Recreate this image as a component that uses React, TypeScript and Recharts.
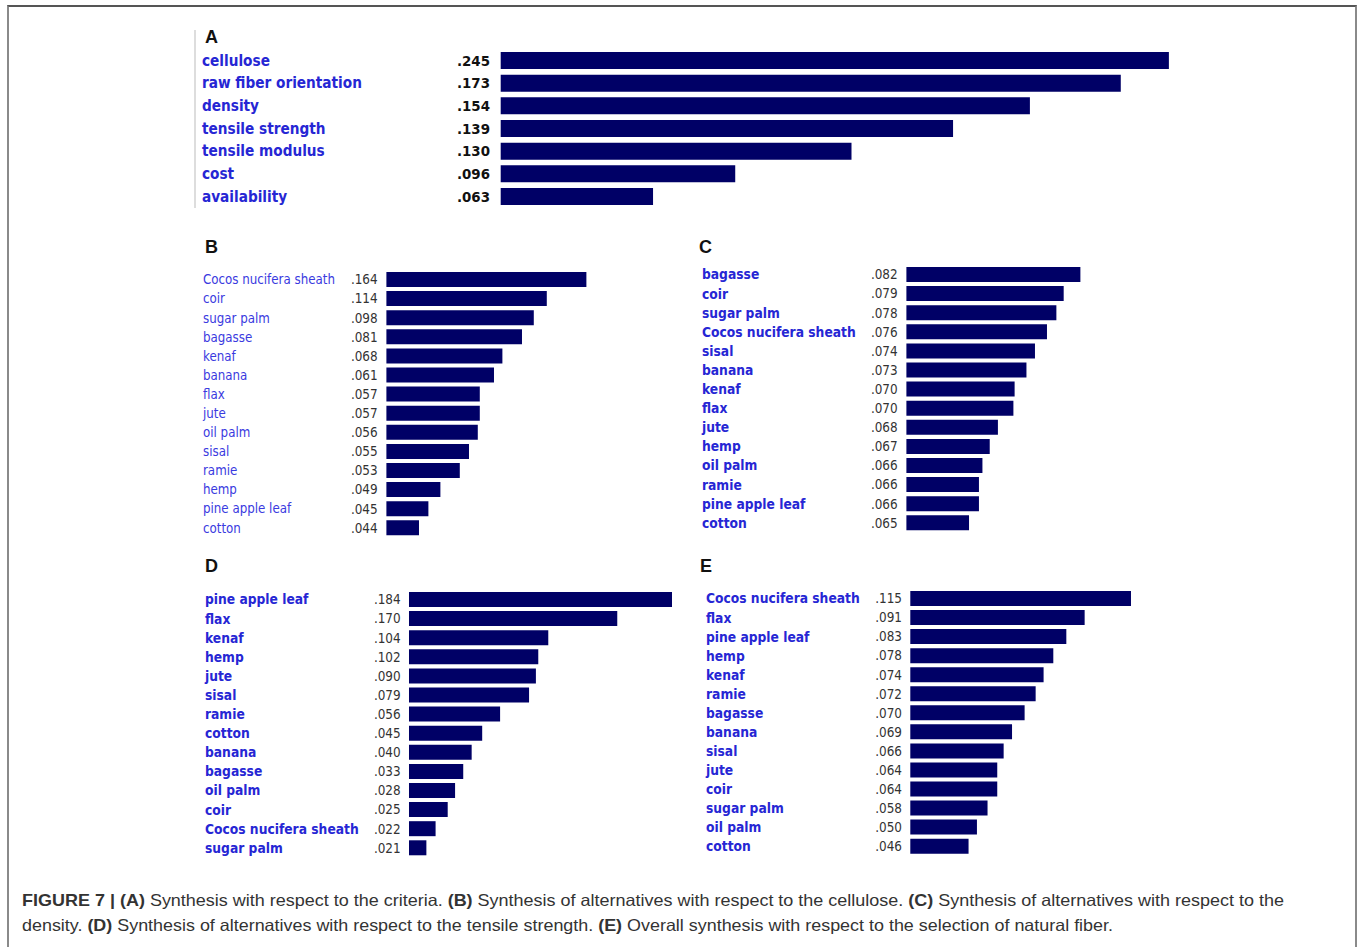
import { BarChart, Bar, XAxis, YAxis } from 'recharts';

/*
  Expert Choice style synthesis bars (Figure 7, A-E).
  The drawn bar lengths in the source do not scale with the printed
  priorities, so each panel keeps both: the printed weights (text column)
  and the bar lengths (percent of the longest bar).
*/

// (A) criteria
const criteriaNames = ['cellulose', 'raw fiber orientation', 'density', 'tensile strength', 'tensile modulus', 'cost', 'availability'];
const criteriaWeights = [0.245, 0.173, 0.154, 0.139, 0.13, 0.096, 0.063];
const criteriaBars = [100, 92.8, 79.2, 67.7, 52.5, 35.1, 22.8];

// (B) alternatives wrt cellulose
const celluloseNames = ['Cocos nucifera sheath', 'coir', 'sugar palm', 'bagasse', 'kenaf', 'banana', 'flax', 'jute', 'oil palm', 'sisal', 'ramie', 'hemp', 'pine apple leaf', 'cotton'];
const celluloseWeights = [0.164, 0.114, 0.098, 0.081, 0.068, 0.061, 0.057, 0.057, 0.056, 0.055, 0.053, 0.049, 0.045, 0.044];
const celluloseBars = [100, 80.2, 73.7, 67.8, 58, 53.8, 46.7, 46.7, 45.7, 41.3, 36.7, 27, 21, 16.3];

// (C) alternatives wrt density
const densityNames = ['bagasse', 'coir', 'sugar palm', 'Cocos nucifera sheath', 'sisal', 'banana', 'kenaf', 'flax', 'jute', 'hemp', 'oil palm', 'ramie', 'pine apple leaf', 'cotton'];
const densityWeights = [0.082, 0.079, 0.078, 0.076, 0.074, 0.073, 0.07, 0.07, 0.068, 0.067, 0.066, 0.066, 0.066, 0.065];
const densityBars = [100, 90.4, 86.2, 80.8, 73.9, 69, 62.2, 61.5, 52.6, 47.9, 43.7, 41.7, 41.7, 36];

// (D) alternatives wrt tensile strength
const strengthNames = ['pine apple leaf', 'flax', 'kenaf', 'hemp', 'jute', 'sisal', 'ramie', 'cotton', 'banana', 'bagasse', 'oil palm', 'coir', 'Cocos nucifera sheath', 'sugar palm'];
const strengthWeights = [0.184, 0.17, 0.104, 0.102, 0.09, 0.079, 0.056, 0.045, 0.04, 0.033, 0.028, 0.025, 0.022, 0.021];
const strengthBars = [100, 79.1, 52.9, 49.1, 48.2, 45.6, 34.6, 27.8, 23.8, 20.6, 17.5, 14.7, 10.1, 6.6];

// (E) overall synthesis
const overallNames = ['Cocos nucifera sheath', 'flax', 'pine apple leaf', 'hemp', 'kenaf', 'ramie', 'bagasse', 'banana', 'sisal', 'jute', 'coir', 'sugar palm', 'oil palm', 'cotton'];
const overallWeights = [0.115, 0.091, 0.083, 0.078, 0.074, 0.072, 0.07, 0.069, 0.066, 0.064, 0.064, 0.058, 0.05, 0.046];
const overallBars = [100, 79, 70.7, 64.8, 60.4, 56.8, 51.8, 46.1, 42.3, 39.4, 39.4, 35, 30.2, 26.4];

const panelLetters = ['A', 'B', 'C', 'D', 'E'];

const captionLine1 = [
  { text: 'FIGURE 7 | (A)', bold: true },
  { text: ' Synthesis with respect to the criteria. ', bold: false },
  { text: '(B)', bold: true },
  { text: ' Synthesis of alternatives with respect to the cellulose. ', bold: false },
  { text: '(C)', bold: true },
  { text: ' Synthesis of alternatives with respect to the', bold: false },
];
const captionLine2 = [
  { text: 'density. ', bold: false },
  { text: '(D)', bold: true },
  { text: ' Synthesis of alternatives with respect to the tensile strength. ', bold: false },
  { text: '(E)', bold: true },
  { text: ' Overall synthesis with respect to the selection of natural fiber.', bold: false },
];

const BAR_COLOR = '#000066';
const FONT = "'DejaVu Sans Condensed', 'DejaVu Sans', Verdana, sans-serif";

const fmt = (v: number) => v.toFixed(3).replace(/^0/, '');

type PanelProps = {
  names: string[];
  weights: number[];
  bars: number[];
  left: number;
  top: number;
  axisWidth: number;
  valueRight: number;
  plotWidth: number;
  rowHeight: number;
  barSize: number;
  nameStyle: { fontSize: number; fontWeight: string; fill: string };
  valueStyle: { fontSize: number; fontWeight: string; fill: string };
};

const Panel = (p: PanelProps) => {
  const data = p.names.map((name, i) => ({ name, weight: p.weights[i], bar: p.bars[i] }));
  const height = p.names.length * p.rowHeight;

  const renderTick = (props: any) => {
    const i = p.names.indexOf(props.payload.value);
    return (
      <g>
        <text x={2} y={props.y} dy="0.36em" textAnchor="start" fontFamily={FONT} {...p.nameStyle}>
          {p.names[i]}
        </text>
        <text x={p.valueRight} y={props.y} dy="0.36em" textAnchor="end" fontFamily={FONT} {...p.valueStyle}>
          {fmt(p.weights[i])}
        </text>
      </g>
    );
  };

  return (
    <div style={{ position: 'absolute', left: p.left, top: p.top }}>
      <BarChart
        width={p.axisWidth + p.plotWidth}
        height={height}
        data={data}
        layout="vertical"
        margin={{ top: 0, right: 0, bottom: 0, left: 0 }}
        barSize={p.barSize}
      >
        <XAxis type="number" dataKey="bar" domain={[0, 100]} hide />
        <YAxis
          type="category"
          dataKey="name"
          width={p.axisWidth}
          axisLine={false}
          tickLine={false}
          interval={0}
          tick={renderTick}
        />
        <Bar dataKey="bar" fill={BAR_COLOR} isAnimationActive={false} />
      </BarChart>
    </div>
  );
};

const boldBlue = { fontSize: 13.7, fontWeight: 'bold', fill: '#2626d4' };
const grayValue = { fontSize: 13.4, fontWeight: 'normal', fill: '#333' };

const App = () => {
  const letterPos = [
    { x: 205, y: 43 },
    { x: 205, y: 253 },
    { x: 699, y: 253 },
    { x: 205, y: 572 },
    { x: 700, y: 572 },
  ];

  return (
    <div style={{ position: 'absolute', left: 0, top: 0, width: 1357, height: 947, background: '#fff', overflow: 'hidden' }}>
      {/* figure frame */}
      <div
        style={{
          position: 'absolute',
          left: 7,
          top: 5,
          width: 1350,
          height: 1000,
          boxSizing: 'border-box',
          borderTop: '2px solid #555',
          borderLeft: '2px solid #8a8a8a',
          borderRight: '2px solid #8a8a8a',
        }}
      />
      <div style={{ position: 'absolute', left: 194, top: 30, width: 2, height: 178, background: '#ddd' }} />

      <svg width={1357} height={947} style={{ position: 'absolute', left: 0, top: 0 }}>
        {panelLetters.map((l, i) => (
          <text key={l} x={letterPos[i].x} y={letterPos[i].y} fontFamily="'Liberation Sans', Arial, sans-serif" fontWeight="bold" fontSize={18} fill="#111">
            {l}
          </text>
        ))}
        <text x={22} y={906} textLength={1262} lengthAdjust="spacingAndGlyphs" fontFamily="'Liberation Sans', Arial, sans-serif" fontSize={16.5} fill="#333" style={{ whiteSpace: 'pre' }}>
          {captionLine1.map((c, i) => (
            <tspan key={i} fontWeight={c.bold ? 'bold' : 'normal'}>{c.text}</tspan>
          ))}
        </text>
        <text x={22} y={931} textLength={1091} lengthAdjust="spacingAndGlyphs" fontFamily="'Liberation Sans', Arial, sans-serif" fontSize={16.5} fill="#333" style={{ whiteSpace: 'pre' }}>
          {captionLine2.map((c, i) => (
            <tspan key={i} fontWeight={c.bold ? 'bold' : 'normal'}>{c.text}</tspan>
          ))}
        </text>
      </svg>

      <Panel
        names={criteriaNames}
        weights={criteriaWeights}
        bars={criteriaBars}
        left={200}
        top={49.4}
        axisWidth={300.7}
        valueRight={290}
        plotWidth={668.2}
        rowHeight={22.67}
        barSize={17}
        nameStyle={{ fontSize: 15.2, fontWeight: 'bold', fill: '#2626d4' }}
        valueStyle={{ fontSize: 14.9, fontWeight: 'bold', fill: '#111' }}
      />
      <Panel
        names={celluloseNames}
        weights={celluloseWeights}
        bars={celluloseBars}
        left={201.3}
        top={269.75}
        axisWidth={185.4}
        valueRight={176.7}
        plotWidth={200}
        rowHeight={19.1}
        barSize={15}
        nameStyle={{ fontSize: 13.2, fontWeight: 'normal', fill: '#3a3ae0' }}
        valueStyle={grayValue}
      />
      <Panel
        names={densityNames}
        weights={densityWeights}
        bars={densityBars}
        left={700.3}
        top={265.45}
        axisWidth={206.4}
        valueRight={197.7}
        plotWidth={174}
        rowHeight={19.1}
        barSize={15}
        nameStyle={boldBlue}
        valueStyle={grayValue}
      />
      <Panel
        names={strengthNames}
        weights={strengthWeights}
        bars={strengthBars}
        left={203}
        top={590.45}
        axisWidth={206}
        valueRight={197.7}
        plotWidth={263.3}
        rowHeight={19.1}
        barSize={15}
        nameStyle={boldBlue}
        valueStyle={grayValue}
      />
      <Panel
        names={overallNames}
        weights={overallWeights}
        bars={overallBars}
        left={703.7}
        top={588.8}
        axisWidth={206.3}
        valueRight={198}
        plotWidth={220.7}
        rowHeight={19.05}
        barSize={15}
        nameStyle={boldBlue}
        valueStyle={grayValue}
      />
    </div>
  );
};

export default App;
